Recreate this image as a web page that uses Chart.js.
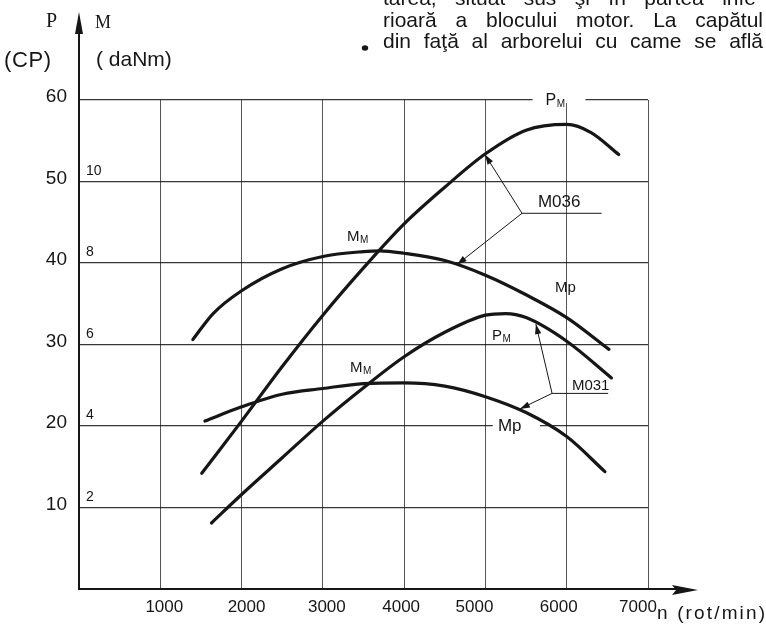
<!DOCTYPE html>
<html><head><meta charset="utf-8">
<script src="https://cdn.jsdelivr.net/npm/chart.js@4.4.0/dist/chart.umd.min.js"></script>
<style>html,body{margin:0;padding:0;background:#fff;} canvas{display:block;}</style>
</head><body>
<canvas id="c" width="766" height="628"></canvas>
<script>
// ---- tick labels ----
const rpmTickValues = [1000, 2000, 3000, 4000, 5000, 6000, 7000];
const rpmTickLabels = ['1000', '2000', '3000', '4000', '5000', '6000', '7000'];
const powerTickValues = [10, 20, 30, 40, 50, 60];
const powerTickLabels = ['10', '20', '30', '40', '50', '60'];
const torqueTickValues = [2, 4, 6, 8, 10];
const torqueTickLabels = ['2', '4', '6', '8', '10'];

// ---- engine M036: power P (CP) and torque M (daNm) vs n (rot/min) ----
const rpmPowerM036 = [1510, 2000, 2500, 3000, 3500, 4000, 4500, 5000, 5500, 6000, 6300, 6640];
const powerM036    = [14.2, 20.6, 27.3, 33.6, 39.4, 44.8, 49.3, 53.4, 56.3, 57.0, 56.0, 53.3];
const rpmTorqueM036 = [1400, 1650, 2000, 2500, 3000, 3500, 3700, 4000, 4500, 5000, 5500, 6000, 6520];
const torqueM036    = [6.12, 6.76, 7.32, 7.86, 8.16, 8.28, 8.30, 8.24, 8.06, 7.70, 7.22, 6.66, 5.88];

// ---- engine M031 ----
const rpmPowerM031 = [1630, 2000, 2500, 3000, 3500, 4000, 4500, 5000, 5250, 5500, 6000, 6550];
const powerM031    = [8.1, 11.6, 16.1, 20.6, 24.7, 28.5, 31.5, 33.6, 33.8, 33.3, 30.4, 25.9];
const rpmTorqueM031 = [1550, 2000, 2500, 3000, 3500, 4000, 4500, 5000, 5500, 6000, 6470];
const torqueM031    = [4.12, 4.47, 4.78, 4.92, 5.04, 5.06, 4.98, 4.72, 4.33, 3.74, 2.88];

const textLines = [
  'tarea, situat sus şi în partea infe-',
  'rioară a blocului motor. La capătul',
  'din faţă al arborelui cu came se află'
];

// small horizontal nudges of the hand-lettered rpm labels (px)
const rpmLabelNudge = [4, 5, 4, -3, -11, -8, -10];

const INK = '#161616';
Chart.defaults.font.family = 'Liberation Sans';
Chart.defaults.color = INK;

function pts(xs, ys) { return xs.map((v, i) => ({ x: v, y: ys[i] })); }
function curve(xs, ys, axis) {
  return {
    data: pts(xs, ys), yAxisID: axis, borderColor: INK, borderWidth: 3.2,
    pointRadius: 0, fill: false, cubicInterpolationMode: 'monotone', borderCapStyle: 'round'
  };
}
function lookup(values, labels) {
  return v => { const i = values.indexOf(v); return i >= 0 ? labels[i] : ''; };
}

function subLabel(ctx, main, sub, x, y, size) {
  ctx.font = size + 'px "Liberation Sans"';
  ctx.textAlign = 'left'; ctx.textBaseline = 'alphabetic';
  ctx.fillText(main, x, y);
  const w = ctx.measureText(main).width;
  ctx.font = Math.round(size * 0.65) + 'px "Liberation Sans"';
  ctx.fillText(sub, x + w + 0.5, y + 2);
}
function justify(ctx, text, left, right, baseline) {
  const words = text.split(' ');
  const ws = words.map(w => ctx.measureText(w).width);
  const total = ws.reduce((a, b) => a + b, 0);
  const gap = (right - left - total) / (words.length - 1);
  let xx = left;
  words.forEach((w, i) => { ctx.fillText(w, xx, baseline); xx += ws[i] + gap; });
}
function spread(ctx, text, left, right, baseline) {
  const ch = [...text];
  const ws = ch.map(c => ctx.measureText(c).width);
  const total = ws.reduce((a, b) => a + b, 0);
  const gap = (right - left - total) / (ch.length - 1);
  let xx = left;
  ch.forEach((c, i) => { ctx.fillText(c, xx, baseline); xx += ws[i] + gap; });
}
function arrow(ctx, x1, y1, x2, y2, len, half) {
  ctx.beginPath(); ctx.moveTo(x1, y1); ctx.lineTo(x2, y2); ctx.stroke();
  const a = Math.atan2(y2 - y1, x2 - x1);
  ctx.beginPath(); ctx.moveTo(x2, y2);
  ctx.lineTo(x2 - len * Math.cos(a) + half * Math.sin(a), y2 - len * Math.sin(a) - half * Math.cos(a));
  ctx.lineTo(x2 - len * Math.cos(a) - half * Math.sin(a), y2 - len * Math.sin(a) + half * Math.cos(a));
  ctx.closePath(); ctx.fill();
}

const decor = {
  id: 'decor',
  beforeDatasetsDraw(chart) {
    const { ctx, scales: { x, y } } = chart;
    ctx.save(); ctx.fillStyle = '#fff';
    // gaps in grid lines behind labels
    ctx.fillRect(x.getPixelForValue(5580), y.getPixelForValue(60) - 3, x.getPixelForValue(6230) - x.getPixelForValue(5580), 6);
    ctx.fillRect(x.getPixelForValue(5090), y.getPixelForValue(20) - 3, x.getPixelForValue(5670) - x.getPixelForValue(5090), 6);
    ctx.restore();
  },
  afterDraw(chart) {
    const { ctx, chartArea: ca, scales: { x, y } } = chart;
    const X = v => x.getPixelForValue(v), Y = v => y.getPixelForValue(v);
    ctx.save();
    ctx.fillStyle = INK; ctx.strokeStyle = INK;

    // rpm tick labels on the x scale
    ctx.font = '17px "Liberation Sans"'; ctx.textAlign = 'center'; ctx.textBaseline = 'middle';
    rpmTickValues.forEach((v, i) => ctx.fillText(rpmTickLabels[i], X(v) + rpmLabelNudge[i], ca.bottom + 18));

    // axis extensions with arrows
    ctx.lineWidth = 2;
    ctx.beginPath(); ctx.moveTo(ca.left, ca.top); ctx.lineTo(ca.left, 24); ctx.stroke();
    ctx.beginPath(); ctx.moveTo(ca.left, 12); ctx.lineTo(ca.left - 4, 34); ctx.lineTo(ca.left + 4, 34); ctx.closePath(); ctx.fill();
    ctx.beginPath(); ctx.moveTo(ca.right, ca.bottom); ctx.lineTo(685, ca.bottom); ctx.stroke();
    ctx.beginPath(); ctx.moveTo(698, ca.bottom + 1); ctx.lineTo(672, ca.bottom - 4); ctx.lineTo(676, ca.bottom + 1); ctx.lineTo(672, ca.bottom + 6); ctx.closePath(); ctx.fill();

    // axis titles
    ctx.textAlign = 'left'; ctx.textBaseline = 'alphabetic';
    ctx.font = '20px "Liberation Serif"'; ctx.fillText('P', 46, 27);
    ctx.font = '18px "Liberation Serif"'; ctx.fillText('M', 95, 28);
    ctx.font = '22px "Liberation Sans"'; spread(ctx, '(CP)', 4, 51, 67);
    ctx.font = '21px "Liberation Sans"'; ctx.fillText('( daNm)', 96, 66);
    ctx.font = '19px "Liberation Sans"'; spread(ctx, 'n (rot/min)', 657, 765, 619);

    // curve labels
    subLabel(ctx, 'P', 'M', X(5740), Y(59.35), 16);
    subLabel(ctx, 'M', 'M', X(3296), Y(42.7), 15);
    ctx.font = '15px "Liberation Sans"'; ctx.fillText('Mp', X(5855), Y(36.4));
    subLabel(ctx, 'P', 'M', X(5080), Y(30.55), 15);
    subLabel(ctx, 'M', 'M', X(3333), Y(26.6), 15);
    ctx.font = '17px "Liberation Sans"'; ctx.fillText('Mp', X(5154), Y(19.4));

    // callouts
    ctx.lineWidth = 1;
    ctx.font = '17px "Liberation Sans"'; ctx.fillText('M036', X(5646), Y(46.9));
    ctx.beginPath(); ctx.moveTo(X(5450), Y(46.1)); ctx.lineTo(X(6430), Y(46.1)); ctx.stroke();
    arrow(ctx, X(5450), Y(46.1), X(4994), Y(53.3), 10, 3.2);
    arrow(ctx, X(5450), Y(46.1), X(4649), Y(39.8), 10, 3.2);
    ctx.font = '15px "Liberation Sans"'; ctx.fillText('M031', X(6064), Y(24.4));
    ctx.beginPath(); ctx.moveTo(X(5820), Y(24.0)); ctx.lineTo(X(6510), Y(24.0)); ctx.stroke();
    arrow(ctx, X(5820), Y(24.0), X(5621), Y(32.5), 10, 3.2);
    arrow(ctx, X(5820), Y(24.0), X(5424), Y(22.1), 10, 3.2);

    // page text above the figure
    ctx.font = '21px "Liberation Sans"';
    justify(ctx, textLines[0], 383, 763, 5);
    justify(ctx, textLines[1], 383, 763, 27);
    justify(ctx, textLines[2], 383, 763, 48);
    ctx.beginPath(); ctx.ellipse(365, 48, 3.2, 2.8, 0, 0, Math.PI * 2); ctx.fill();
    ctx.restore();
  }
};

new Chart(document.getElementById('c'), {
  type: 'line',
  data: {
    datasets: [
      curve(rpmPowerM036, powerM036, 'y'),
      curve(rpmTorqueM036, torqueM036, 'yM'),
      curve(rpmPowerM031, powerM031, 'y'),
      curve(rpmTorqueM031, torqueM031, 'yM')
    ]
  },
  options: {
    responsive: false, animation: false, devicePixelRatio: 1,
    layout: { padding: { left: 0, top: 100, right: 118, bottom: 0 } },
    plugins: { legend: { display: false }, tooltip: { enabled: false } },
    scales: {
      x: {
        type: 'linear', min: 0, max: 7000, position: 'bottom',
        afterFit: s => { s.height = 39; },
        ticks: { stepSize: 1000, autoSkip: false, maxRotation: 0, display: false },
        grid: { color: 'rgba(30,30,30,0.75)', lineWidth: 1, drawTicks: false },
        border: { color: INK, width: 2 }
      },
      y: {
        type: 'linear', min: 0, max: 60, position: 'left', weight: 1,
        afterFit: s => { s.width = 79; },
        ticks: { stepSize: 10, padding: 12, labelOffset: -3,
                 callback: lookup(powerTickValues, powerTickLabels),
                 font: { size: 19 }, color: INK },
        grid: { color: 'rgba(20,20,20,0.85)', lineWidth: 1.2, drawTicks: false },
        border: { color: INK, width: 2 }
      },
      yM: {
        type: 'linear', min: 0, max: 12, position: 'left', weight: 0,
        afterFit: s => { s.width = 0; },
        ticks: { stepSize: 2, mirror: true, padding: 7, labelOffset: -10.5,
                 callback: lookup(torqueTickValues, torqueTickLabels),
                 font: { size: 14 }, color: INK },
        grid: { display: false, drawTicks: false },
        border: { display: false }
      }
    }
  },
  plugins: [decor]
});
</script>
</body></html>
